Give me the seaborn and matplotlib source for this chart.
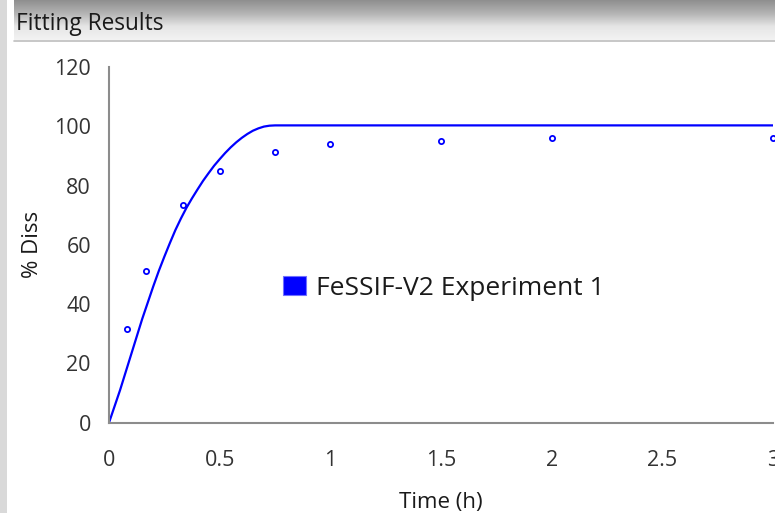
import numpy as np
import pandas as pd
import matplotlib
matplotlib.use("Agg")
import matplotlib.pyplot as plt
import seaborn as sns
from matplotlib.patches import Patch, Rectangle
from matplotlib.colors import LinearSegmentedColormap

# ---- data ----
time_h = [0.0833, 0.1667, 0.3333, 0.5, 0.75, 1.0, 1.5, 2.0, 3.0]
diss_obs = [31.5, 51.2, 73.3, 84.8, 91.3, 94.1, 95.2, 96.0, 96.1]

fit_time = [0.0, 0.025, 0.05, 0.075, 0.1, 0.125, 0.15, 0.175, 0.2, 0.225, 0.25, 0.275,
            0.3, 0.325, 0.35, 0.375, 0.4, 0.425, 0.45, 0.475, 0.5, 0.525, 0.55, 0.575,
            0.6, 0.625, 0.65, 0.675, 0.7, 0.725, 0.75, 3.0]
fit_diss = [0.0, 5.5, 11.0, 17.0, 23.0, 29.0, 35.0, 40.5, 46.0, 51.2, 56.0, 60.6,
            65.0, 68.9, 72.5, 75.7, 78.7, 81.6, 84.2, 86.7, 88.9, 91.0, 92.9, 94.6,
            96.1, 97.4, 98.5, 99.3, 99.9, 100.2, 100.3, 100.3]

series_name = "FeSSIF-V2 Experiment 1"
x_ticks = [0, 0.5, 1, 1.5, 2, 2.5, 3]
x_tick_labels = ["0", "0.5", "1", "1.5", "2", "2.5", "3"]
y_ticks = [0, 20, 40, 60, 80, 100, 120]
y_tick_labels = ["0", "20", "40", "60", "80", "100", "120"]
panel_title = "Fitting Results"
x_label = "Time (h)"
y_label = "% Diss"

obs_df = pd.DataFrame({"time": time_h, "diss": diss_obs})
fit_df = pd.DataFrame({"time": fit_time, "diss": fit_diss})

sns.set_theme(style="white")
plt.rcParams["font.family"] = ["Open Sans", "DejaVu Sans"]

W, H = 775, 513
fig = plt.figure(figsize=(W / 100, H / 100), dpi=100)
fig.patch.set_facecolor("white")

# ---- panel decorations (background, title bar) ----
bg = fig.add_axes([0, 0, 1, 1], zorder=-5)
bg.axis("off")
grad = np.linspace(0, 1, 64)[:, None]
cmap = LinearSegmentedColormap.from_list("bar", ["#8f8f8f", "#b4b4b4", "#e6e6e6", "#f3f3f3"])
bg.imshow(grad, extent=(14, W, 40, 0), cmap=cmap, aspect="auto", origin="upper")
bg.add_patch(Rectangle((0, 0), 7, H, color="#d9d9d9", lw=0))
bg.plot([14, W], [41, 41], color="#bdbdbd", lw=1.2)
bg.set_xlim(0, W)
bg.set_ylim(H, 0)
bg.text(16, 23.5, panel_title, fontsize=16.3, ha="left", va="center", color="#1a1a1a")

# ---- main chart ----
ax = fig.add_axes([109 / W, 1 - 422.7 / H, 664 / W, 355.7 / H])
ax.set_facecolor("none")
blue = "#0000ff"
sns.lineplot(data=fit_df, x="time", y="diss", ax=ax, color=blue, lw=1.6, zorder=2)
sns.scatterplot(data=obs_df, x="time", y="diss", ax=ax, marker="o", s=14,
                facecolors="white", edgecolors=blue, linewidth=1.3,
                clip_on=False, zorder=3)

ax.set_xlim(0, 3)
ax.set_ylim(0, 120)
ax.set_xticks(x_ticks, x_tick_labels)
ax.set_yticks(y_ticks, y_tick_labels)
for s in ["top", "right"]:
    ax.spines[s].set_visible(False)
for s in ["left", "bottom"]:
    ax.spines[s].set_color("#8c8c8c")
    ax.spines[s].set_linewidth(1.5)
ax.tick_params(axis="both", direction="out", length=7, width=1.3, color="#8c8c8c",
               labelsize=15.5, labelcolor="#333333")
ax.tick_params(axis="y", pad=6)
ax.tick_params(axis="x", pad=13)

ax.set_xlabel(x_label, fontsize=16, color="#1a1a1a")
ax.set_ylabel(y_label, fontsize=16, color="#1a1a1a")
ax.xaxis.set_label_coords(0.5, -0.196)
ax.yaxis.set_label_coords(-0.1, 0.5)

handle = Patch(facecolor=blue, edgecolor="#7070ff", lw=0.8)
ax.legend(handles=[handle], labels=[series_name], loc="center left",
          bbox_to_anchor=(0.262, 0.378), frameon=False, fontsize=19,
          handlelength=0.87, handleheight=0.75, handletextpad=0.38,
          borderpad=0, borderaxespad=0, labelcolor="#1a1a1a")

fig.savefig("out.png", dpi=100)
